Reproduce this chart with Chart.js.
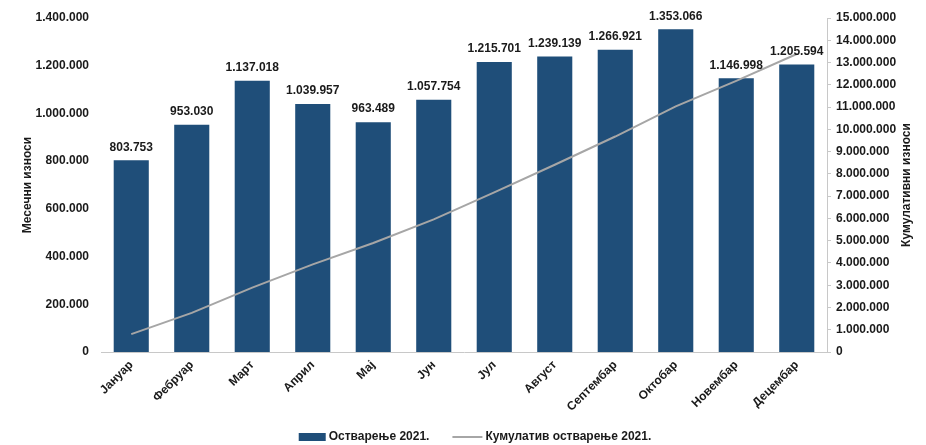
<!DOCTYPE html>
<html>
<head>
<meta charset="utf-8">
<script src="https://cdn.jsdelivr.net/npm/chart.js@4/dist/chart.umd.min.js"></script>
<style>
  html, body { margin: 0; padding: 0; background: #fff; }
  #wrap { width: 926px; height: 445px; }
</style>
</head>
<body>
<div id="wrap"><canvas id="myChart" width="926" height="445"></canvas></div>
<script>
var months = ['Јануар', 'Фебруар', 'Март', 'Април', 'Мај', 'Јун', 'Јул', 'Август', 'Септембар', 'Октобар', 'Новембар', 'Децембар'];
var monthly = [803753, 953030, 1137018, 1039957, 963489, 1057754, 1215701, 1239139, 1266921, 1353066, 1146998, 1205594];
var cumulative = [803753, 1756783, 2893801, 3933758, 4897247, 5955001, 7170702, 8409841, 9676762, 11029828, 12176826, 13382420];

var barColor = '#1f4e79';
var lineColor = '#a6a6a6';
var textColor = '#1a1a1a';
var fontFam = '"Liberation Sans", Arial, sans-serif';

function fmt(v) {
    return String(Math.round(v)).replace(/\B(?=(\d{3})+(?!\d))/g, '.');
}

// bar value labels, both axis titles (reading bottom to top) and the legend
var extras = {
    id: 'extras',
    afterDatasetsDraw: function(chart) {
        var ctx = chart.ctx;
        var area = chart.chartArea;
        var meta = chart.getDatasetMeta(0);
        var midY = (area.top + area.bottom) / 2;
        ctx.save();
        ctx.font = 'bold 12px ' + fontFam;
        ctx.fillStyle = textColor;
        ctx.textAlign = 'center';
        ctx.textBaseline = 'bottom';
        meta.data.forEach(function(bar, i) {
            ctx.fillText(fmt(monthly[i]), bar.x, bar.y - 7);
        });

        ctx.textBaseline = 'middle';
        [[28, 'Месечни износи'], [907, 'Кумулативни износи']].forEach(function(t) {
            ctx.save();
            ctx.translate(t[0], midY);
            ctx.rotate(-Math.PI / 2);
            ctx.fillText(t[1], 0, 0);
            ctx.restore();
        });

        // legend
        var ds = chart.data.datasets;
        ctx.font = 'bold 12px ' + fontFam;
        ctx.textAlign = 'left';
        var ly = 437;
        var w0 = ctx.measureText(ds[0].label).width;
        var w1 = ctx.measureText(ds[1].label).width;
        var total = 27 + 3 + w0 + 23 + 30 + 3 + w1;
        var x = 475 - total / 2;
        ctx.fillStyle = ds[0].backgroundColor;
        ctx.fillRect(x, ly - 4, 27, 8);
        ctx.fillStyle = textColor;
        ctx.fillText(ds[0].label, x + 30, ly);
        x += 30 + w0 + 23;
        ctx.strokeStyle = ds[1].borderColor;
        ctx.lineWidth = 2;
        ctx.beginPath();
        ctx.moveTo(x, ly);
        ctx.lineTo(x + 30, ly);
        ctx.stroke();
        ctx.fillText(ds[1].label, x + 33, ly);
        ctx.restore();
    }
};

var ctx = document.getElementById('myChart').getContext('2d');
new Chart(ctx, {
    type: 'bar',
    data: {
        labels: months,
        datasets: [{
            type: 'bar',
            label: 'Остварење 2021.',
            data: monthly,
            backgroundColor: barColor,
            borderWidth: 0,
            categoryPercentage: 0.58,
            barPercentage: 1,
            yAxisID: 'y',
            order: 2
        }, {
            type: 'line',
            label: 'Кумулатив остварење 2021.',
            data: cumulative,
            borderColor: lineColor,
            backgroundColor: lineColor,
            borderWidth: 2,
            pointRadius: 0,
            tension: 0,
            yAxisID: 'y2',
            order: 1
        }]
    },
    options: {
        responsive: false,
        animation: false,
        layout: { padding: { top: 18, left: 0, right: 0, bottom: 31 } },
        plugins: {
            tooltip: { enabled: false },
            legend: { display: false }
        },
        scales: {
            x: {
                grid: { display: false, drawTicks: false },
                border: { display: true, color: '#c8c8c8', width: 1 },
                ticks: {
                    color: textColor,
                    minRotation: 45,
                    maxRotation: 45,
                    padding: 6,
                    font: { family: fontFam, size: 12, weight: 'bold' }
                },
                afterFit: function(scale) { scale.height = 62; }
            },
            y: {
                position: 'left',
                min: 0,
                max: 1400000,
                grid: { display: false },
                border: { display: false },
                ticks: {
                    stepSize: 200000,
                    padding: 4,
                    color: textColor,
                    font: { family: fontFam, size: 12, weight: 'bold' },
                    callback: function(v) { return fmt(v); }
                },
                afterFit: function(scale) { scale.width = 101; }
            },
            y2: {
                position: 'right',
                min: 0,
                max: 15000000,
                grid: { drawOnChartArea: false, color: '#c8c8c8', tickLength: 4 },
                border: { display: true, color: '#c8c8c8' },
                ticks: {
                    stepSize: 1000000,
                    padding: 5,
                    color: textColor,
                    font: { family: fontFam, size: 12, weight: 'bold' },
                    callback: function(v) { return fmt(v); }
                },
                afterFit: function(scale) { scale.width = 99; }
            }
        }
    },
    plugins: [extras]
});
</script>
</body>
</html>
